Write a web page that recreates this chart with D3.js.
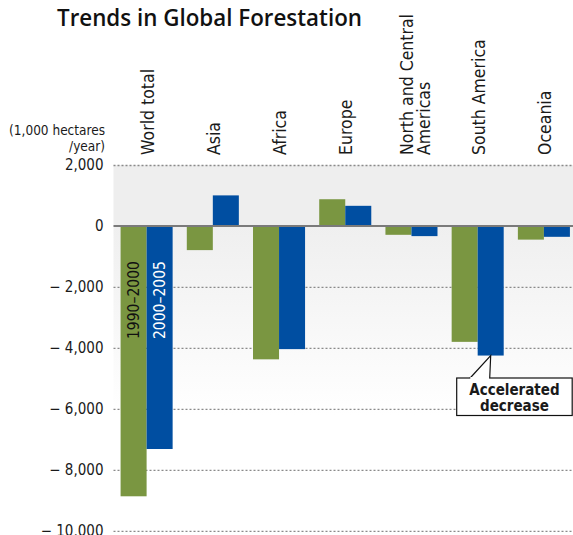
<!DOCTYPE html>
<html>
<head>
<meta charset="utf-8">
<script src="https://cdn.jsdelivr.net/npm/d3@7/dist/d3.min.js"></script>
<style>
  html, body { margin: 0; padding: 0; background: #fff; }
  svg { display: block; }
  text { font-family: "DejaVu Sans Condensed", "Liberation Sans Narrow", "Roboto", sans-serif; fill: #1a1a1a; }
</style>
</head>
<body>
<svg id="chart" width="573" height="535"></svg>
<script>
// Net change in forest area by region (1,000 hectares per year)
const regions = ["World total", "Asia", "Africa", "Europe", "North and Central\nAmericas", "South America", "Oceania"];
const periods = ["1990\u20132000", "2000\u20132005"];
const change1990to2000 = [-8868, -792, -4375, 877, -290, -3802, -448];
const change2000to2005 = [-7317, 1003, -4040, 661, -333, -4251, -356];
const yTicks = [2000, 0, -2000, -4000, -6000, -8000, -10000];
const periodColors = ["#7a9641", "#004ea1"];

const svg = d3.select("#chart");
const left = 113.5, right = 573, plotRight = 577;

const x = d3.scaleBand().domain(regions).range([left, plotRight]).paddingInner(0.214).paddingOuter(0.107);
const xSub = d3.scaleBand().domain(periods).range([0, x.bandwidth()]);
const y = d3.scaleLinear().domain([-10000, 2000]).range([530.8, 165]);

// Background: flat grey above zero, fading to white below
const defs = svg.append("defs");
const grad = defs.append("linearGradient").attr("id", "fade").attr("x1", 0).attr("y1", 0).attr("x2", 0).attr("y2", 1);
grad.append("stop").attr("offset", 0).attr("stop-color", "#efefef");
grad.append("stop").attr("offset", 1).attr("stop-color", "#ffffff");
svg.append("rect").attr("x", left).attr("y", y(2000)).attr("width", right - left).attr("height", y(0) - y(2000)).attr("fill", "#eeeeee");
svg.append("rect").attr("x", left).attr("y", y(0)).attr("width", right - left).attr("height", y(-6200) - y(0)).attr("fill", "url(#fade)");

// Dotted gridlines and tick labels
const fmt = d => d < 0 ? "\u2212 " + d3.format(",")(-d) : d3.format(",")(d);
const yAxis = d3.axisLeft(y).tickValues(yTicks).tickFormat(fmt).tickSize(0).tickPadding(10);
const gAxis = svg.append("g").attr("transform", `translate(${left},0)`).call(yAxis);
gAxis.select(".domain").remove();
gAxis.selectAll("text").attr("font-size", 15).attr("fill", "#1a1a1a")
  .style("font-family", '"DejaVu Sans Condensed", sans-serif');

svg.append("g").selectAll("line").data(yTicks.filter(d => d !== 0)).join("line")
  .attr("x1", left).attr("x2", right).attr("y1", d => y(d) + 0.5).attr("y2", d => y(d) + 0.5)
  .attr("stroke", "#8a8a8a").attr("stroke-width", 1.3).attr("stroke-dasharray", "2,2");

// Bars
const rows = regions.map((r, i) => ({ region: r, values: [change1990to2000[i], change2000to2005[i]] }));
const groups = svg.append("g").selectAll("g").data(rows).join("g")
  .attr("transform", d => `translate(${x(d.region)},0)`);
groups.selectAll("rect").data(d => d.values.map((v, j) => ({ period: periods[j], value: v, j }))).join("rect")
  .attr("x", d => xSub(d.period))
  .attr("width", xSub.bandwidth())
  .attr("y", d => Math.min(y(0), y(d.value)))
  .attr("height", d => Math.abs(y(d.value) - y(0)))
  .attr("fill", d => periodColors[d.j]);

// Zero baseline
svg.append("line").attr("x1", left).attr("x2", right).attr("y1", y(0)).attr("y2", y(0))
  .attr("stroke", "#7a7a7a").attr("stroke-width", 2);

// Rotated region labels (two-line labels sit a little to the right)
const catLabels = svg.append("g").selectAll("text").data(regions).join("text")
  .attr("transform", d => `translate(${x(d) + x.bandwidth() / 2},155) rotate(-90)`)
  .attr("font-size", 17.5);
catLabels.each(function (d) {
  const lines = d.split("\n");
  const t = d3.select(this);
  const offsets = lines.length === 1 ? [7] : [2, 18.5];
  lines.forEach((ln, k) => {
    t.append("tspan").attr("x", 0).attr("y", offsets[k]).text(ln);
  });
});

// Period labels inside the World total bars
const w0 = regions[0];
periods.forEach((p, j) => {
  svg.append("text")
    .attr("transform", `translate(${x(w0) + xSub(p) + xSub.bandwidth() / 2 + 5.5},339) rotate(-90)`)
    .attr("font-size", 15.5)
    .style("fill", j === 0 ? "#111" : "#fff")
    .text(p);
});

// Unit label
const unit = svg.append("text").attr("text-anchor", "end").attr("font-size", 13.5);
unit.append("tspan").attr("x", 105).attr("y", 135).text("(1,000 hectares");
unit.append("tspan").attr("x", 105).attr("y", 151).text("/year)");

// Title
svg.append("text").attr("x", 57).attr("y", 26).attr("font-size", 24).attr("font-weight", 600)
  .style("font-family", '"Open Sans", sans-serif').style("fill", "#111")
  .attr("textLength", 305).attr("lengthAdjust", "spacingAndGlyphs")
  .text("Trends in Global Forestation");

// Callout on South America 2000-2005
const saX = x("South America") + xSub(periods[1]) + xSub.bandwidth() / 2;
const tipY = y(change2000to2005[5]);
const boxX = 456.7, boxY = 378, boxW = 115.5, boxH = 37.5;
svg.append("path")
  .attr("d", `M${boxX + 13},${boxY + 0.5} L${saX},${tipY} L${saX - 1},${boxY + 0.5}`)
  .attr("fill", "#fff").attr("stroke", "#111").attr("stroke-width", 1.2);
svg.append("rect").attr("x", boxX).attr("y", boxY).attr("width", boxW).attr("height", boxH)
  .attr("fill", "#fff").attr("stroke", "#111").attr("stroke-width", 1.2);
svg.append("rect").attr("x", boxX + 13.6).attr("y", boxY - 1).attr("width", saX - boxX - 15.2).attr("height", 2.5).attr("fill", "#fff");
const cx = boxX + boxW / 2;
["Accelerated", "decrease"].forEach((s, k) => {
  svg.append("text").attr("text-anchor", "middle").attr("font-size", 15).attr("font-weight", "bold")
    .attr("x", cx).attr("y", boxY + 17 + k * 16).text(s);
});
</script>
</body>
</html>
